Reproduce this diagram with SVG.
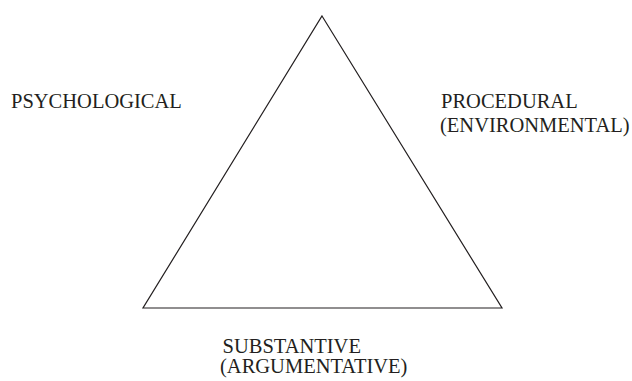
<svg xmlns="http://www.w3.org/2000/svg" width="632" height="381" viewBox="0 0 632 381">
<style>
.lbl{font-family:"Liberation Serif","Times New Roman",serif;font-size:20.5px;fill:#231f20}
.edge{fill:none;stroke:#231f20;stroke-width:1.2}
</style>
<rect width="632" height="381" fill="#ffffff"/>
<g id="connectors">
<polygon class="edge" points="322,16 502,308 143,308"/>
</g>
<g id="psychological"><text class="lbl" x="11" y="108">PSYCHOLOGICAL</text></g>
<g id="procedural"><text class="lbl" x="441" y="108">PROCEDURAL</text><text class="lbl" x="440" y="131.5">(ENVIRONMENTAL)</text></g>
<g id="substantive"><text class="lbl" x="222.5" y="353">SUBSTANTIVE</text><text class="lbl" x="220" y="373">(ARGUMENTATIVE)</text></g>
</svg>
